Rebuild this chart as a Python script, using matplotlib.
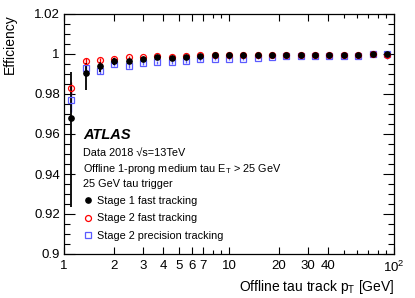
import numpy as np
import matplotlib
matplotlib.use("Agg")
import matplotlib.pyplot as plt
from matplotlib.lines import Line2D

plt.rcParams["font.family"] = ["Liberation Sans", "DejaVu Sans"]
plt.rcParams["mathtext.default"] = "regular"

# ---- data ----------------------------------------------------------------
pt = [1.105, 1.350, 1.649, 2.014, 2.462, 3.008, 3.675, 4.489, 5.485, 6.701,
      8.187, 10.0, 12.22, 14.93, 18.24, 22.28, 27.22, 33.26, 40.63, 49.64,
      60.65, 74.10, 90.53]

eff_s1 = [0.968, 0.9905, 0.994, 0.9965, 0.9965, 0.9975, 0.9985, 0.998, 0.9987,
          0.999, 0.9995, 0.9995, 0.9995, 0.9993, 0.9993, 0.9993, 0.9993, 0.9993,
          0.9993, 0.9993, 0.9993, 1.0, 1.0]
err_s1_lo = [0.0445, 0.0085, 0.003, 0.002, 0.0015, 0.0012, 0.001, 0.001, 0.0008,
             0.0008, 0.0006, 0.0006, 0.0006, 0.0006, 0.0006, 0.0006, 0.0006,
             0.0006, 0.0006, 0.0006, 0.0008, 0.0008, 0.001]
err_s1_hi = [0.023, 0.005, 0.002, 0.0015, 0.001, 0.001, 0.0008, 0.0008, 0.0006,
             0.0006, 0.0004, 0.0004, 0.0004, 0.0004, 0.0004, 0.0004, 0.0004,
             0.0004, 0.0004, 0.0004, 0.0004, 0.0, 0.0]

eff_s2f = [0.983, 0.9965, 0.997, 0.9975, 0.9984, 0.9984, 0.999, 0.9987, 0.999,
           0.9995, 0.9993, 0.9995, 0.9993, 0.9993, 0.9993, 0.9995, 0.9993, 0.9993,
           0.9995, 0.9993, 0.9995, 0.9998, 0.9995]
err_s2f = [0.003, 0.0015, 0.001, 0.001, 0.0008, 0.0008, 0.0006, 0.0006, 0.0005,
           0.0005, 0.0005, 0.0005, 0.0005, 0.0005, 0.0005, 0.0005, 0.0005, 0.0005,
           0.0005, 0.0005, 0.0005, 0.0004, 0.0008]

eff_s2p = [0.977, 0.993, 0.9915, 0.995, 0.9942, 0.9955, 0.9958, 0.9958, 0.9965,
           0.9973, 0.9975, 0.9975, 0.9975, 0.9982, 0.9987, 0.9992, 0.9992, 0.9992,
           0.9992, 0.9992, 0.9992, 1.0, 1.0]
err_s2p_lo = [0.006, 0.002, 0.0015, 0.001, 0.001, 0.001, 0.0008, 0.0008, 0.0008,
              0.0006, 0.0006, 0.0006, 0.0006, 0.0006, 0.0006, 0.0005, 0.0005,
              0.0005, 0.0005, 0.0005, 0.0006, 0.0008, 0.0025]
err_s2p_hi = [0.005, 0.0015, 0.0012, 0.001, 0.001, 0.0008, 0.0008, 0.0008, 0.0006,
              0.0006, 0.0006, 0.0006, 0.0006, 0.0006, 0.0006, 0.0005, 0.0005,
              0.0005, 0.0005, 0.0005, 0.0005, 0.0, 0.0]

xticks = [1, 2, 3, 4, 5, 6, 7, 10, 20, 30, 40, 100]
xticklabels = ["1", "2", "3", "4", "5", "6", "7", "10", "20", "30", "40", "$10^{2}$"]
xminor = [8, 9, 50, 60, 70, 80, 90]
yticks = [0.9, 0.92, 0.94, 0.96, 0.98, 1.0, 1.02]
yticklabels = ["0.9", "0.92", "0.94", "0.96", "0.98", "1", "1.02"]

RED = "#ff0000"
BLUE = "#5b5bff"

# ---- figure ----------------------------------------------------------------
fig = plt.figure(figsize=(4.15, 2.98), dpi=100)
ax = fig.add_axes([64 / 415, 1 - 254 / 298, 330 / 415, 240 / 298])

ax.errorbar(pt, eff_s2p, yerr=[err_s2p_lo, err_s2p_hi], fmt="s", ms=4.2,
            mfc="none", mec=BLUE, mew=0.9, ecolor=BLUE, elinewidth=1.0, capsize=0)
ax.errorbar(pt, eff_s2f, yerr=err_s2f, fmt="o", ms=4.3, mfc="none", mec=RED,
            mew=0.9, ecolor=RED, elinewidth=1.0, capsize=0)
ax.errorbar(pt, eff_s1, yerr=[err_s1_lo, err_s1_hi], fmt="o", ms=3.8,
            color="black", elinewidth=1.3, capsize=0)

ax.set_xscale("log")
ax.set_xlim(1, 100)
ax.set_ylim(0.9, 1.02)
ax.set_xticks(xticks)
ax.set_xticklabels(xticklabels)
ax.set_xticks(xminor, minor=True)
ax.xaxis.set_minor_formatter(matplotlib.ticker.NullFormatter())
ax.set_yticks(yticks)
ax.set_yticklabels(yticklabels)
ax.yaxis.set_minor_locator(matplotlib.ticker.MultipleLocator(0.005))
ax.tick_params(which="both", direction="in", top=True, right=True,
               labelsize=9.5, width=0.8)
ax.tick_params(axis="y", which="major", length=8, pad=3)
ax.tick_params(axis="y", which="minor", length=4)
ax.tick_params(axis="x", which="major", length=5, pad=4)
ax.tick_params(axis="x", which="minor", length=3)
for s in ax.spines.values():
    s.set_linewidth(0.9)

ax.set_xlabel("Offline tau track p$_\\mathregular{T}$ [GeV]", fontsize=10, loc="right")
ax.set_ylabel("Efficiency", fontsize=10, loc="top")
ax.xaxis.set_label_coords(1.0, -0.1)
ax.yaxis.set_label_coords(-0.142, 1.0)

# ---- labels ----------------------------------------------------------------
tx = (83 - 64) / 330
ax.text(tx, (254 - 135) / 240, "ATLAS", transform=ax.transAxes, fontsize=10.5,
        fontweight="bold", fontstyle="italic", va="center")
ax.text(tx, (254 - 153) / 240, "Data 2018 \u221as=13TeV", transform=ax.transAxes,
        fontsize=7.8, va="center")
ax.text(tx, (254 - 169) / 240, "Offline 1-prong medium tau E$_\\mathregular{T}$ > 25 GeV",
        transform=ax.transAxes, fontsize=7.8, va="center")
ax.text(tx, (254 - 184) / 240, "25 GeV tau trigger", transform=ax.transAxes,
        fontsize=7.8, va="center")

handles = [
    Line2D([], [], ls="none", marker="o", ms=3.8, color="black"),
    Line2D([], [], ls="none", marker="o", ms=4.3, mfc="none", mec=RED, mew=0.9),
    Line2D([], [], ls="none", marker="s", ms=4.2, mfc="none", mec=BLUE, mew=0.9),
]
labels = ["Stage 1 fast tracking", "Stage 2 fast tracking", "Stage 2 precision tracking"]
ax.legend(handles, labels, loc="upper left", bbox_to_anchor=(0.063, (254 - 196) / 240),
          frameon=False, fontsize=7.8, handlelength=0.6, handletextpad=0.5,
          labelspacing=0.68, borderpad=0, borderaxespad=0)

fig.savefig("out.png", dpi=100)
